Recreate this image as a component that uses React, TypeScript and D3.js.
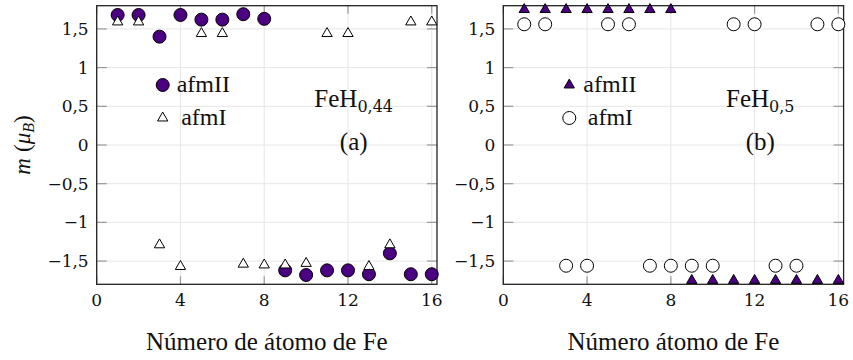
import React from "react";
import * as d3 from "d3";

// Magnetic moment per Fe atom, two antiferromagnetic configurations
const atoms = [1, 2, 3, 4, 5, 6, 7, 8, 9, 10, 11, 12, 13, 14, 15, 16];

// FeH0.44
const a_afmII = [1.68, 1.68, 1.4, 1.68, 1.62, 1.62, 1.69, 1.63, -1.62, -1.68, -1.62, -1.62, -1.67, -1.4, -1.67, -1.67];
const a_afmI = [1.59, 1.59, -1.29, -1.57, 1.44, 1.44, -1.54, -1.55, -1.55, -1.53, 1.44, 1.44, -1.57, -1.29, 1.59, 1.59];

// FeH0.5
const b_afmII = [1.75, 1.75, 1.75, 1.75, 1.75, 1.75, 1.75, 1.75, -1.75, -1.75, -1.75, -1.75, -1.75, -1.75, -1.75, -1.75];
const b_afmI = [1.56, 1.56, -1.56, -1.56, 1.56, 1.56, -1.56, -1.56, -1.56, -1.56, 1.56, 1.56, -1.56, -1.56, 1.56, 1.56];

const xTicks = [0, 4, 8, 12, 16];
const yTicks = [-1.5, -1, -0.5, 0, 0.5, 1, 1.5];

const PURPLE = "#4b0082";

const fmt = (v: number) => {
  const s = String(Math.abs(v)).replace(".", ",");
  return v < 0 ? "\u2212" + s : s;
};

const triPath = d3.symbol(d3.symbolTriangle, 46)() as string;

const css = `
  svg text, svg tspan { font-family: "Liberation Serif", "Times New Roman", serif; fill: #111; }
  svg text.num, svg tspan.num { font-family: "DejaVu Serif", serif; }
`;

type Marker = "circle" | "triangle";

function Mark({ kind, x, y, fill }: { kind: Marker; x: number; y: number; fill: string }) {
  if (kind === "circle")
    return <circle cx={x} cy={y} r={6.5} fill={fill} stroke="#000" strokeWidth={1} />;
  return (
    <path d={triPath} transform={`translate(${x},${y})`} fill={fill} stroke="#000" strokeWidth={1} />
  );
}

interface Series {
  values: number[];
  kind: Marker;
  fill: string;
}

interface PanelProps {
  left: number;
  right: number;
  top: number;
  bottom: number;
  afmII: Series;
  afmI: Series;
  back: "afmII" | "afmI";
  sub: string;
  tag: string;
  xlabel: string;
}

function Panel(p: PanelProps) {
  const x = d3.scaleLinear().domain([0, 16.25]).range([p.left, p.right]);
  const y = d3.scaleLinear().domain([-1.8, 1.8]).range([p.bottom, p.top]);
  const cx = (p.left + p.right) / 2;
  const order = p.back === "afmII" ? [p.afmII, p.afmI] : [p.afmI, p.afmII];
  return (
    <g>
      {xTicks.map((t) => (
        <line key={"gx" + t} x1={x(t)} x2={x(t)} y1={p.top} y2={p.bottom} stroke="#e6e6e6" strokeWidth={1} />
      ))}
      {yTicks.map((t) => (
        <line key={"gy" + t} x1={p.left} x2={p.right} y1={y(t)} y2={y(t)} stroke="#e6e6e6" strokeWidth={1} />
      ))}
      {xTicks.map((t) => (
        <g key={"tx" + t}>
          <line x1={x(t)} x2={x(t)} y1={p.bottom} y2={p.bottom - 8} stroke="#999" strokeWidth={1.2} />
          <line x1={x(t)} x2={x(t)} y1={p.top} y2={p.top + 8} stroke="#999" strokeWidth={1.2} />
          <text className="num" x={x(t)} y={p.bottom + 22} textAnchor="middle" fontSize={17}>
            {fmt(t)}
          </text>
        </g>
      ))}
      {yTicks.map((t) => (
        <g key={"ty" + t}>
          <line x1={p.left} x2={p.left + 10} y1={y(t)} y2={y(t)} stroke="#999" strokeWidth={1.2} />
          <line x1={p.right} x2={p.right - 10} y1={y(t)} y2={y(t)} stroke="#999" strokeWidth={1.2} />
          <text className="num" x={p.left - 8} y={y(t) + 6} textAnchor="end" fontSize={17}>
            {fmt(t)}
          </text>
        </g>
      ))}
      <rect x={p.left} y={p.top} width={p.right - p.left} height={p.bottom - p.top} fill="none" stroke="#222" strokeWidth={1.3} />

      {order.map((s, k) =>
        atoms.map((a, i) => (
          <Mark key={k + "-" + a} kind={s.kind} x={x(a)} y={y(s.values[i])} fill={s.fill} />
        ))
      )}

      {/* legend */}
      <Mark kind={p.afmII.kind} x={p.left + 66} y={85} fill={p.afmII.fill} />
      <text x={p.left + 80} y={92} fontSize={24}>afmII</text>
      <Mark kind={p.afmI.kind} x={p.left + 66} y={118} fill={p.afmI.fill} />
      <text x={p.left + 84.5} y={125} fontSize={24}>afmI</text>

      {/* compound label */}
      <text x={p.left + 257} y={107} textAnchor="middle" fontSize={25}>
        FeH
        <tspan className="num" dy={5} fontSize={16}>{p.sub}</tspan>
      </text>
      <text x={p.left + 257} y={150} textAnchor="middle" fontSize={25}>
        {p.tag}
      </text>

      <text x={cx} y={350} textAnchor="middle" fontSize={25}>
        {p.xlabel}
      </text>
    </g>
  );
}

export default function App() {
  const top = 5.7;
  const bottom = 284.3;
  const yMid = (top + bottom) / 2;
  return (
    <div style={{ position: "absolute", left: 0, top: 0 }}>
      <style>{css}</style>
      <svg width={853} height={360} fontFamily="Liberation Serif">
        <Panel
          left={96.7}
          right={437}
          top={top}
          bottom={bottom}
          afmII={{ values: a_afmII, kind: "circle", fill: PURPLE }}
          afmI={{ values: a_afmI, kind: "triangle", fill: "#fff" }}
          back="afmII"
          sub="0,44"
          tag="(a)"
          xlabel="Número de átomo de Fe"
        />
        <Panel
          left={503.3}
          right={843.6}
          top={top}
          bottom={bottom}
          afmII={{ values: b_afmII, kind: "triangle", fill: PURPLE }}
          afmI={{ values: b_afmI, kind: "circle", fill: "#fff" }}
          back="afmI"
          sub="0,5"
          tag="(b)"
          xlabel="Número átomo de Fe"
        />
        <text transform={`translate(30,${yMid}) rotate(-90)`} textAnchor="middle" fontSize={23}>
          <tspan fontStyle="italic">m</tspan>
          <tspan dx={6}>(</tspan>
          <tspan fontStyle="italic">{"\u03BC"}</tspan>
          <tspan fontStyle="italic" fontSize={16} dy={4}>B</tspan>
          <tspan dy={-4}>)</tspan>
        </text>
      </svg>
    </div>
  );
}
